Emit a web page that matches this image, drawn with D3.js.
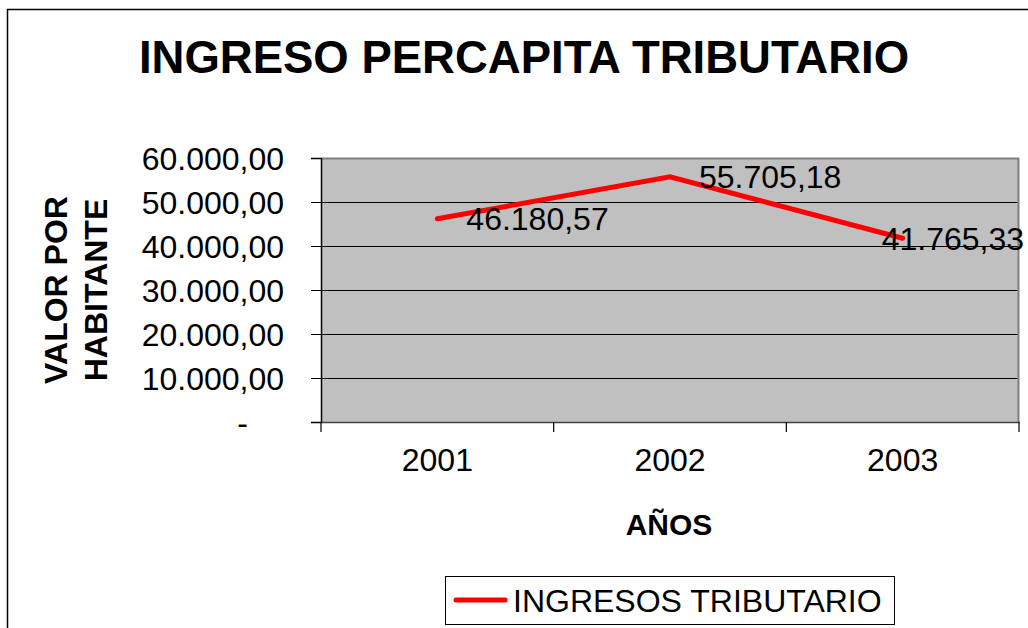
<!DOCTYPE html>
<html>
<head>
<meta charset="utf-8">
<script src="https://cdn.jsdelivr.net/npm/d3@7"></script>
<style>
  body { margin: 0; background: #fff; }
  text { font-family: Arial, "Liberation Sans", sans-serif; }
</style>
</head>
<body>
<svg id="chart" width="1028" height="628"></svg>
<script>
// data
const years = ['2001', '2002', '2003'];
const ingresos = [46180.57, 55705.18, 41765.33];
const yTicks = [0, 10000, 20000, 30000, 40000, 50000, 60000];

const svg = d3.select('#chart');
const W = 1028, H = 628;
const plot = {left: 321, top: 158, right: 1019, bottom: 422};

// es-CO style number: 46.180,57
const fmt = d3.formatLocale({decimal: ',', thousands: '.', grouping: [3], currency: ['$', '']}).format(',.2f');

svg.append('rect').attr('width', W).attr('height', H).attr('fill', '#fff');

// outer chart frame (only top/left visible)
svg.append('path')
  .attr('d', `M7.5,${H + 5}V9.5H${W + 5}`)
  .attr('fill', 'none').attr('stroke', '#000').attr('stroke-width', 1.5);

const x = d3.scaleBand().domain(years).range([plot.left, plot.right]);
const y = d3.scaleLinear().domain([0, 60000]).range([plot.bottom, plot.top]);

// plot area
svg.append('rect')
  .attr('x', plot.left).attr('y', plot.top)
  .attr('width', plot.right - plot.left).attr('height', plot.bottom - plot.top)
  .attr('fill', '#c0c0c0');

// gridlines
svg.append('g').selectAll('line')
  .data(yTicks.filter(d => d > 0 && d < 60000))
  .join('line')
  .attr('x1', plot.left).attr('x2', plot.right)
  .attr('y1', d => Math.round(y(d)) + 0.5).attr('y2', d => Math.round(y(d)) + 0.5)
  .attr('stroke', '#000').attr('stroke-width', 1);

// gray border top & right
svg.append('path')
  .attr('d', `M${plot.left},${plot.top + 0.5}H${plot.right - 0.5}V${plot.bottom}`)
  .attr('fill', 'none').attr('stroke', '#808080').attr('stroke-width', 2);

// y axis
const yAxis = svg.append('g')
  .attr('transform', `translate(${plot.left},0)`)
  .call(d3.axisLeft(y).tickValues(yTicks).tickSize(10).tickPadding(37)
    .tickFormat(d => d === 0 ? '-' : fmt(d)));
yAxis.select('.domain').attr('stroke', '#000').attr('stroke-width', 1.5);
yAxis.selectAll('.tick line').attr('stroke', '#000');
yAxis.selectAll('.tick text')
  .attr('font-size', 32).attr('fill', '#000')
  .attr('dy', '0.36em')
  .attr('x', d => d === 0 ? -73 : -37);

// x axis
const xAxis = svg.append('g')
  .attr('transform', `translate(0,${plot.bottom})`)
  .call(d3.axisBottom(x).tickSize(0).tickPadding(37));
xAxis.select('.domain').attr('stroke', '#404040').attr('stroke-width', 1.5);
xAxis.selectAll('.tick text').attr('font-size', 32).attr('fill', '#000').attr('dy', '0.36em');
// category boundary ticks
xAxis.append('g').selectAll('line')
  .data(d3.range(years.length + 1))
  .join('line')
  .attr('x1', i => i < years.length ? x(years[i]) : x(years[years.length - 1]) + x.bandwidth())
  .attr('x2', i => i < years.length ? x(years[i]) : x(years[years.length - 1]) + x.bandwidth())
  .attr('y1', 0).attr('y2', 10)
  .attr('stroke', '#000').attr('stroke-width', 1.2);

// line
const cx = d => x(d) + x.bandwidth() / 2;
const line = d3.line().x((d, i) => cx(years[i])).y(d => y(d));
svg.append('path')
  .datum(ingresos)
  .attr('d', line)
  .attr('fill', 'none').attr('stroke', '#ff0000').attr('stroke-width', 5)
  .attr('stroke-linejoin', 'miter').attr('stroke-linecap', 'round');

// data labels, kept inside the chart edge like Excel does
svg.append('g').selectAll('text')
  .data(ingresos)
  .join('text')
  .attr('y', d => y(d))
  .attr('dy', '0.36em')
  .attr('font-size', 32).attr('fill', '#000')
  .text(d => fmt(d))
  .attr('x', function(d, i) {
    const w = this.getComputedTextLength();
    return Math.min(cx(years[i]) + 29, W - 4 - w);
  });

// title
svg.append('text')
  .attr('x', 524).attr('y', 73)
  .attr('text-anchor', 'middle')
  .attr('font-size', 45.5).attr('font-weight', 'bold')
  .text('INGRESO PERCAPITA TRIBUTARIO');

// axis titles
svg.append('text')
  .attr('x', 669).attr('y', 535)
  .attr('text-anchor', 'middle')
  .attr('font-size', 30).attr('font-weight', 'bold')
  .text('AÑOS');

const yt = svg.append('text')
  .attr('transform', 'translate(0,290) rotate(-90)')
  .attr('text-anchor', 'middle')
  .attr('font-size', 32).attr('font-weight', 'bold');
yt.append('tspan').attr('x', 0).attr('y', 67).text('VALOR POR');
yt.append('tspan').attr('x', 0).attr('y', 107).text('HABITANTE');

// legend
const lg = svg.append('g');
lg.append('rect')
  .attr('x', 445.5).attr('y', 576.5).attr('width', 449).attr('height', 48)
  .attr('fill', '#fff').attr('stroke', '#000').attr('stroke-width', 1);
lg.append('line')
  .attr('x1', 456).attr('x2', 505).attr('y1', 600).attr('y2', 600)
  .attr('stroke', '#ff0000').attr('stroke-width', 5).attr('stroke-linecap', 'round');
lg.append('text')
  .attr('x', 513).attr('y', 600).attr('dy', '0.36em')
  .attr('font-size', 32)
  .text('INGRESOS TRIBUTARIO');
</script>
</body>
</html>
